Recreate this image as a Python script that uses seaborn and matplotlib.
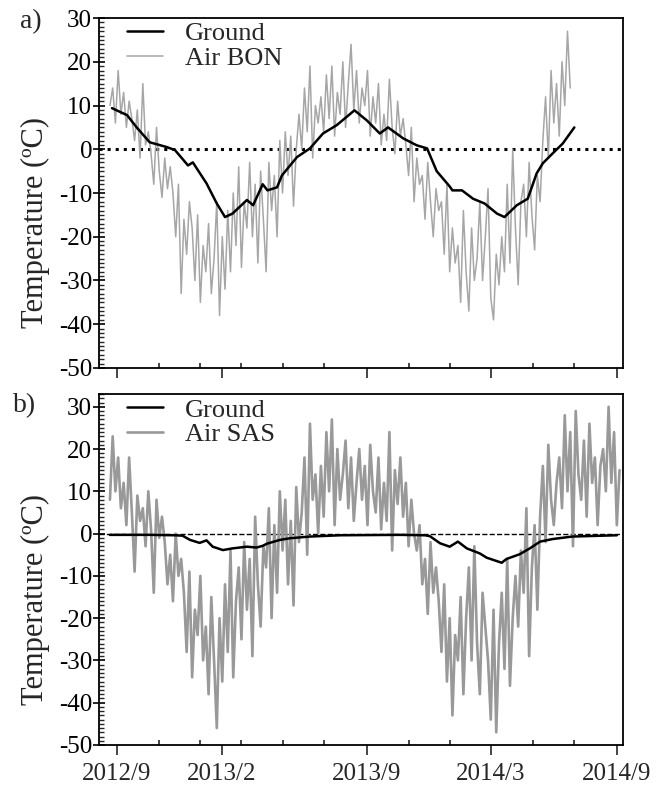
import matplotlib
matplotlib.use("Agg")
import matplotlib.pyplot as plt
import matplotlib.dates as mdates
from matplotlib.ticker import MultipleLocator
import seaborn as sns
import pandas as pd

# Air temperature, one value every 4 days from 2012-08-22
air_start = "2012-08-22"
air_bon = [10, 14, 6, 18, 8, 13, 5, 11,
           7, 2, 9, -2, 15, 1, 4,
           -1, -8, 5, -5, -11, -2, -9, -4,
           -10, -20, -8, -33, -16, -24, -12,
           -18, -30, -15, -35, -22, -28, -17, -33,
           -25, -12, -38, -20, -32, -14, -28,
           -10, -22, -4, -27, -12, -18, -3, -20,
           -8, -26, -5, -16, -28, -3, -14, -6, -20,
           2, -10, 4, -6, 3, -13, 0,
           8, 0, 14, 4, 19, -2, 10, 6,
           12, 4, 17, 7, 19, 3, 13,
           8, 20, 5, 15, 24, 9, 18, 6, 14,
           10, 18, 3, 12, 6, 15, 1,
           8, 2, 16, 5, -1, 11, 3, 7,
           1, -6, 5, -12, -2, -8,
           -6, -16, -3, -12, -20, -9, -14,
           -12, -24, -8, -28, -18, -26,
           -22, -35, -14, -28, -37, -18, -30, -25,
           -12, -30, -20, -9, -34, -39, -24, -31,
           -20, -28, -8, -26, 0, -18, -31, -12,
           -8, -20, -3, -15, -23, -6, -12,
           2, 12, -2, 18, 6, 15, 3,
           20, 10, 27, 14]
air_sas = [8, 23, 10, 18, 6,
           12, 2, 18, 5, -9, 9, 3,
           6, -3, 10, 1, -14, 8, -1, 4,
           -2, -12, -5, -16, 0, -10, -6,
           -14, -28, -9, -34, -18, -24, -10, -30,
           -22, -38, -15, -30, -46, -20, -35,
           -12, -28, -4, -34, -16, -8, -25, -2,
           -18, -6, -29, 4, -12, -22, -3,
           -8, 6, -20, 2, -14, 10,
           -4, 8, -12, 3, -17, 11, -2,
           5, 18, -5, 26, 8, 14, 0,
           16, 4, 24, 10, 27, 2, 20, 8,
           14, 22, 6, 18, 3, 12, 20,
           8, 16, 2, 21, 10, 5, 18, 1,
           12, 3, 24, -4, 15, 7, 18,
           4, 12, -3, 8, 0,
           -4, 2, -12, -6, -19, -2, -14, -8,
           -16, -28, -12, -35, -20, -43, -24, -30, -15, -38,
           -20, -8, -30, -3, -26, -38, -14, -22,
           -30, -44, -18, -47, -26,
           -14, -32, -6, -36, -20, -10,
           -22, -4, -14, 6, -29, -8, 2, -18,
           4, 16, -2, 21, 8, 2, 12,
           18, 6, 28, 10, 24, -3, 29, 14,
           8, 22, 4, 26, 12, 18, 2, 16,
           20, 10, 30, 12, 24, 2, 15]

# Ground temperature
ground_bon_dates = ["2012-08-25", "2012-09-16", "2012-09-30", "2012-10-19", "2012-11-13",
                    "2012-11-25", "2012-12-14", "2012-12-21", "2013-01-10", "2013-01-25",
                    "2013-02-06", "2013-02-17", "2013-03-10", "2013-03-19", "2013-04-02",
                    "2013-04-09", "2013-04-23", "2013-04-30", "2013-05-22", "2013-06-10",
                    "2013-06-29", "2013-07-19", "2013-08-14", "2013-09-01", "2013-09-20",
                    "2013-10-02", "2013-10-24", "2013-11-13", "2013-11-28", "2013-12-12",
                    "2013-12-31", "2014-01-04", "2014-01-18", "2014-02-03", "2014-02-20",
                    "2014-03-10", "2014-03-21", "2014-04-08", "2014-04-24", "2014-05-07",
                    "2014-05-16", "2014-05-30", "2014-06-14", "2014-07-01"]
ground_bon = [9.4, 7.8, 5.0, 1.6, 0.5, -0.2, -3.7, -3.0, -7.8, -12.4,
              -15.5, -14.7, -11.6, -12.8, -8.0, -9.4, -8.7, -6.0, -1.8, 0.2,
              3.6, 5.5, 8.9, 6.6, 3.6, 5.0, 2.5, 0.9, 0.2, -5.0,
              -8.5, -9.4, -9.4, -11.3, -12.4, -14.7, -15.5, -12.8, -11.3, -5.5,
              -3.2, -1.0, 1.3, 5.0]
ground_sas_dates = ["2012-08-22", "2012-10-19", "2012-11-25", "2012-12-06", "2012-12-17",
                    "2012-12-31", "2013-01-10", "2013-01-19", "2013-02-03", "2013-02-17",
                    "2013-03-10", "2013-03-24", "2013-04-02", "2013-04-08", "2013-04-27",
                    "2013-05-12", "2013-06-10", "2013-07-24", "2013-10-19", "2013-11-25",
                    "2013-12-02", "2013-12-17", "2013-12-31", "2014-01-12", "2014-01-25",
                    "2014-02-13", "2014-02-23", "2014-03-17", "2014-03-24", "2014-04-12",
                    "2014-04-27", "2014-05-12", "2014-05-30", "2014-06-28", "2014-09-01"]
ground_sas = [-0.3, -0.3, -0.4, -0.5, -1.5, -2.2, -1.6, -3.1, -3.9, -3.5,
              -3.1, -3.3, -2.9, -2.4, -1.5, -1.1, -0.7, -0.4, -0.3, -0.4,
              -0.6, -2.3, -3.1, -1.9, -3.5, -4.7, -5.7, -6.9, -6.0, -4.9,
              -3.5, -1.9, -1.3, -0.7, -0.4]

tick_dates = ["2012-09-01", "2013-02-01", "2013-09-01", "2014-03-01", "2014-09-01"]
tick_labels = ["2012/9", "2013/2", "2013/9", "2014/3", "2014/9"]

sns.set_theme(style="white")
plt.rcParams['font.family'] = ['Liberation Serif', 'DejaVu Serif']
plt.rcParams['axes.unicode_minus'] = False

fig = plt.figure(figsize=(6.67, 7.91), dpi=100)
ax_a = fig.add_axes([0.1484, 0.5348, 0.7856, 0.4424])
ax_b = fig.add_axes([0.1484, 0.0582, 0.7856, 0.4436])


def draw_panel(ax, air_vals, air_name, g_dates, g_vals, air_color, air_lw, zero_ls, zero_lw, ylim):
    air = pd.DataFrame({"date": pd.date_range(air_start, periods=len(air_vals), freq="4D"),
                        "temp": air_vals})
    grd = pd.DataFrame({"date": pd.to_datetime(g_dates), "temp": g_vals})
    ax.axhline(0, color="black", ls=zero_ls, lw=zero_lw, zorder=1)
    sns.lineplot(data=air, x="date", y="temp", ax=ax, color=air_color, lw=air_lw,
                 label=air_name, zorder=2, estimator=None)
    sns.lineplot(data=grd, x="date", y="temp", ax=ax, color="black", lw=1.8,
                 label="Ground", zorder=3, estimator=None)
    h, l = ax.get_legend_handles_labels()
    ax.legend(h[::-1], l[::-1], loc="upper left", bbox_to_anchor=(0.045, 1.0),
              frameon=False, fontsize=19, handlelength=1.4, handletextpad=0.8,
              labelspacing=0.05, borderpad=0.15, borderaxespad=0)

    ax.set_ylim(*ylim)
    ax.set_xlim(pd.Timestamp("2012-08-06"), pd.Timestamp("2014-09-10"))
    ax.yaxis.set_major_locator(MultipleLocator(10))
    ax.yaxis.set_minor_locator(MultipleLocator(1))
    ax.set_xticks(pd.to_datetime(tick_dates))
    ax.set_xticklabels(tick_labels)
    ax.xaxis.set_minor_locator(mdates.MonthLocator(bymonth=[1, 3, 5, 7, 9, 11]))

    ax.tick_params(axis="y", which="major", direction="inout", length=8, width=1.2,
                   labelsize=18, pad=1, left=True, right=False, colors="black")
    ax.tick_params(axis="y", which="minor", direction="in", length=3.5, width=1,
                   left=True, right=False)
    ax.tick_params(axis="x", which="major", direction="out", length=7, width=1.2,
                   labelsize=18, pad=6, bottom=True, top=False)
    ax.tick_params(axis="x", which="minor", direction="in", length=3.5, width=1.2,
                   bottom=True, top=False)
    for s in ax.spines.values():
        s.set_color("black")
        s.set_linewidth(1.3)
    ax.set_xlabel("")
    ax.set_ylabel("Temperature (ºC)", fontsize=22)
    ax.yaxis.set_label_coords(-0.094, 0.415)


draw_panel(ax_a, air_bon, "Air BON", ground_bon_dates, ground_bon,
           "#a6a6a6", 1.1, ":", 2.2, (-50, 30))
draw_panel(ax_b, air_sas, "Air SAS", ground_sas_dates, ground_sas,
           "#999999", 1.9, "--", 1.0, (-50, 33))
ax_a.tick_params(axis="x", labelbottom=False)

fig.text(20 / 667, 1 - 22 / 791, "a)", fontsize=20, va="center", ha="left")
fig.text(13 / 667, 1 - 406 / 791, "b)", fontsize=20, va="center", ha="left")

fig.savefig("out.png", dpi=100, facecolor="white")
